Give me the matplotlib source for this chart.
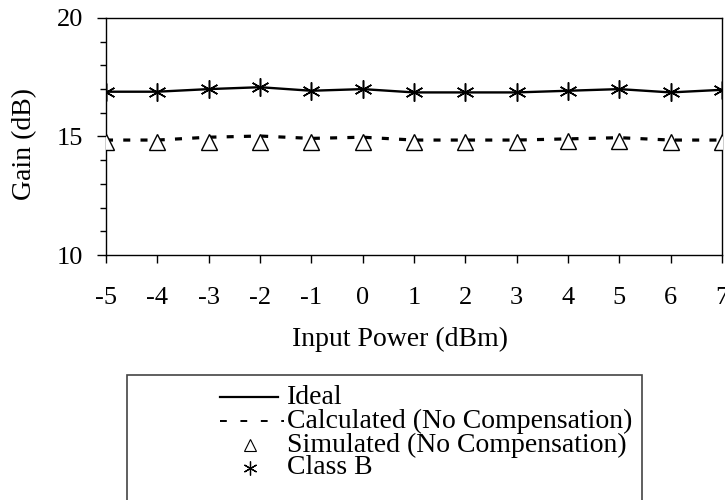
import numpy as np
import matplotlib; matplotlib.use("Agg")
import matplotlib.pyplot as plt
from matplotlib.lines import Line2D
from matplotlib.patches import Rectangle
from matplotlib.ticker import MultipleLocator

plt.rcParams["font.family"] = ["Liberation Serif", "DejaVu Serif"]

x = [-5, -4, -3, -2, -1, 0, 1, 2, 3, 4, 5, 6, 7]
x_labels = ["-5", "-4", "-3", "-2", "-1", "0", "1", "2", "3", "4", "5", "6", "7"]
ideal = [16.89, 16.89, 17.0, 17.08, 16.93, 17.0, 16.86, 16.86, 16.86, 16.93, 17.0, 16.86, 16.97]
classb = [16.89, 16.89, 17.0, 17.08, 16.93, 17.0, 16.86, 16.86, 16.86, 16.93, 17.0, 16.86, 16.97]
calc = [14.85, 14.85, 14.97, 15.02, 14.92, 14.97, 14.85, 14.85, 14.85, 14.9, 14.95, 14.85, 14.85]
sim = [14.78, 14.78, 14.78, 14.78, 14.78, 14.78, 14.78, 14.78, 14.78, 14.83, 14.83, 14.78, 14.78]
labels = ["Ideal", "Calculated (No Compensation)", "Simulated (No Compensation)", "Class B"]

W, H = 725, 500
fig = plt.figure(figsize=(7.25, 5.0), dpi=100)
ax = fig.add_axes([106 / W, 1 - 255 / H, 616 / W, 237 / H])
ax.plot(x, ideal, color="black", lw=1.7, zorder=2)
ax.plot(x, calc, color="black", lw=2.3, ls=(0, (2.2, 3.2)), zorder=2)
ax.plot(x, sim, ls="none", marker="^", ms=11.5, mfc="white", mec="black", mew=1.0, zorder=3)
ax.plot(x, classb, ls="none", marker=(6, 2, 0), ms=13, mec="black", mew=1.1, zorder=3)

ax.set_xlim(-5, 7); ax.set_ylim(10, 20)
ax.set_xticks(x); ax.set_xticklabels(x_labels)
ax.set_yticks([10, 15, 20])
ax.yaxis.set_minor_locator(MultipleLocator(1))
ax.tick_params(axis="both", labelsize=19, direction="out", width=1)
ax.tick_params(axis="x", length=6, pad=17)
ax.tick_params(axis="y", which="major", length=6.5, pad=10)
ax.tick_params(axis="y", which="minor", length=4.5, width=1)
for s in ax.spines.values(): s.set_linewidth(1.0)
ax.set_xlabel("Input Power (dBm)", fontsize=20, va="center")
ax.xaxis.set_label_coords((400 - 106) / 616, (255 - 339) / 237)
ax.set_ylabel("Gain (dB)", fontsize=20, va="center")
ax.yaxis.set_label_coords((25 - 106) / 616, 0.47)

# legend box (runs past the bottom edge like the reference)
fig.patches.append(Rectangle((127 / W, -0.05), (642 - 127) / W, 0.05 + 1 - 375 / H,
                             transform=fig.transFigure, fill=False, ec="#444444", lw=1.2))
handles = [
    dict(color="black", lw=1.6),
    dict(color="black", lw=1.4, ls=(0, (3.5, 7))),
    dict(ls="none", marker="^", ms=9, mfc="white", mec="black", mew=0.8),
    dict(ls="none", marker=(6, 2, 0), ms=10, mec="black", mew=0.9),
]
rows = [397, 421, 445, 468]
for lab, hk, yy, x1 in zip(labels, handles, rows, [278, 284, 280, 280]):
    yf = 1 - yy / H
    if hk.get("ls") == "none":
        fig.add_artist(Line2D([250 / W], [yf], transform=fig.transFigure, **hk))
    else:
        fig.add_artist(Line2D([220 / W, x1 / W], [yf, yf], transform=fig.transFigure, **hk))
    fig.text(287 / W, yf, lab, fontsize=20, va="center", ha="left")

fig.savefig("out.png", dpi=100)
